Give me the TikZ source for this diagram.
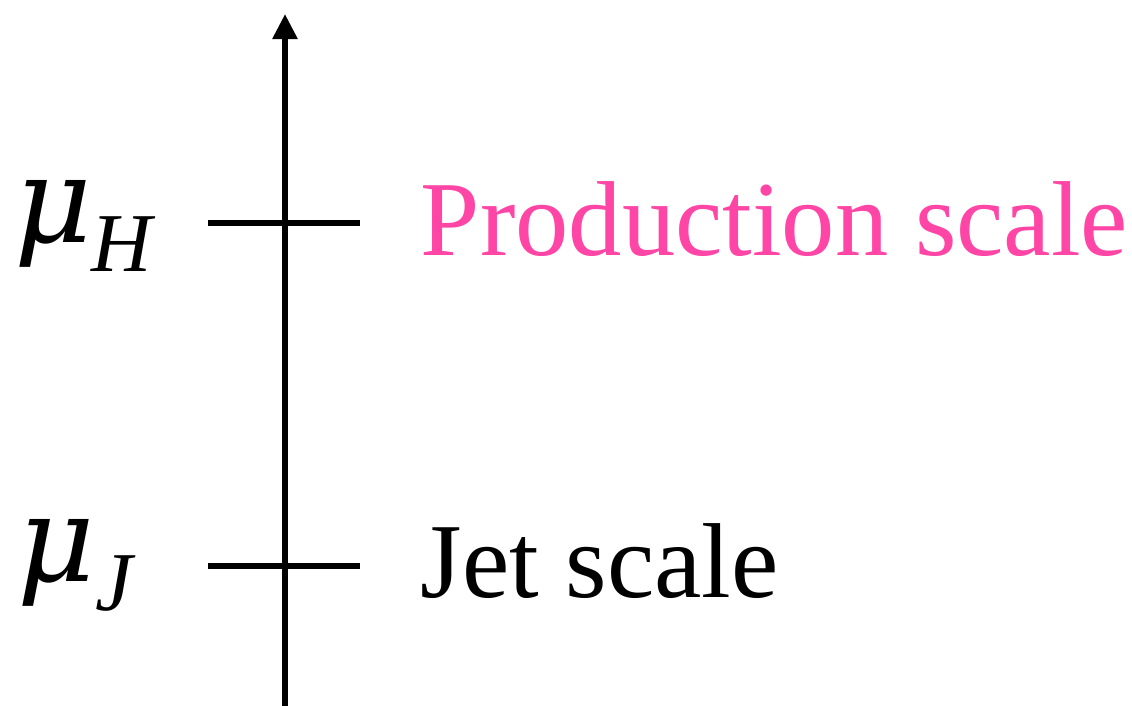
\documentclass[tikz,border=0pt]{standalone}
\usepackage{amsmath, amssymb}
\usepackage{fontspec}
\setmainfont{Liberation Serif}
\newfontfamily\greco{DejaVu Serif}
\usepackage{xcolor}
\usepackage{tikz}
\usetikzlibrary{arrows.meta, positioning, calc}
\definecolor{rosa}{HTML}{FF45A5}

\begin{document}
\begin{tikzpicture}[x=0.01cm, y=-0.01cm, line width=1.6pt,
    scala/.style={anchor=base west, inner sep=0pt, font=\fontsize{30.3}{34}\selectfont},
    simbolo/.style={anchor=base east, inner sep=0pt, font=\fontsize{34}{40}\selectfont}]
    \useasboundingbox (0,0) rectangle (1132,706);

    % Asse delle scale
    \coordinate (base) at (285,706);
    \coordinate (cima) at (285,14);
    \draw[-{Triangle[length=0.25cm, width=0.24cm]}] (base) -- (cima);

    % Scala di produzione
    \coordinate (hsx) at (208,223);
    \coordinate (hdx) at (360,223);
    \draw (hsx) -- (hdx);
    \node[simbolo] (muH) at (157,242) {$\text{\greco\itshape μ}_{\textit{H}}$};
    \node[scala, text=rosa] (prod) at (418,255) {Production scale};

    % Scala del jet
    \coordinate (jsx) at (208,566);
    \coordinate (jdx) at (360,566);
    \draw (jsx) -- (jdx);
    \node[simbolo] (muJ) at (137,581) {$\text{\greco\itshape μ}_{\textit{J}}$};
    \node[scala] (jet) at (418,597) {Jet scale};
\end{tikzpicture}
\end{document}
